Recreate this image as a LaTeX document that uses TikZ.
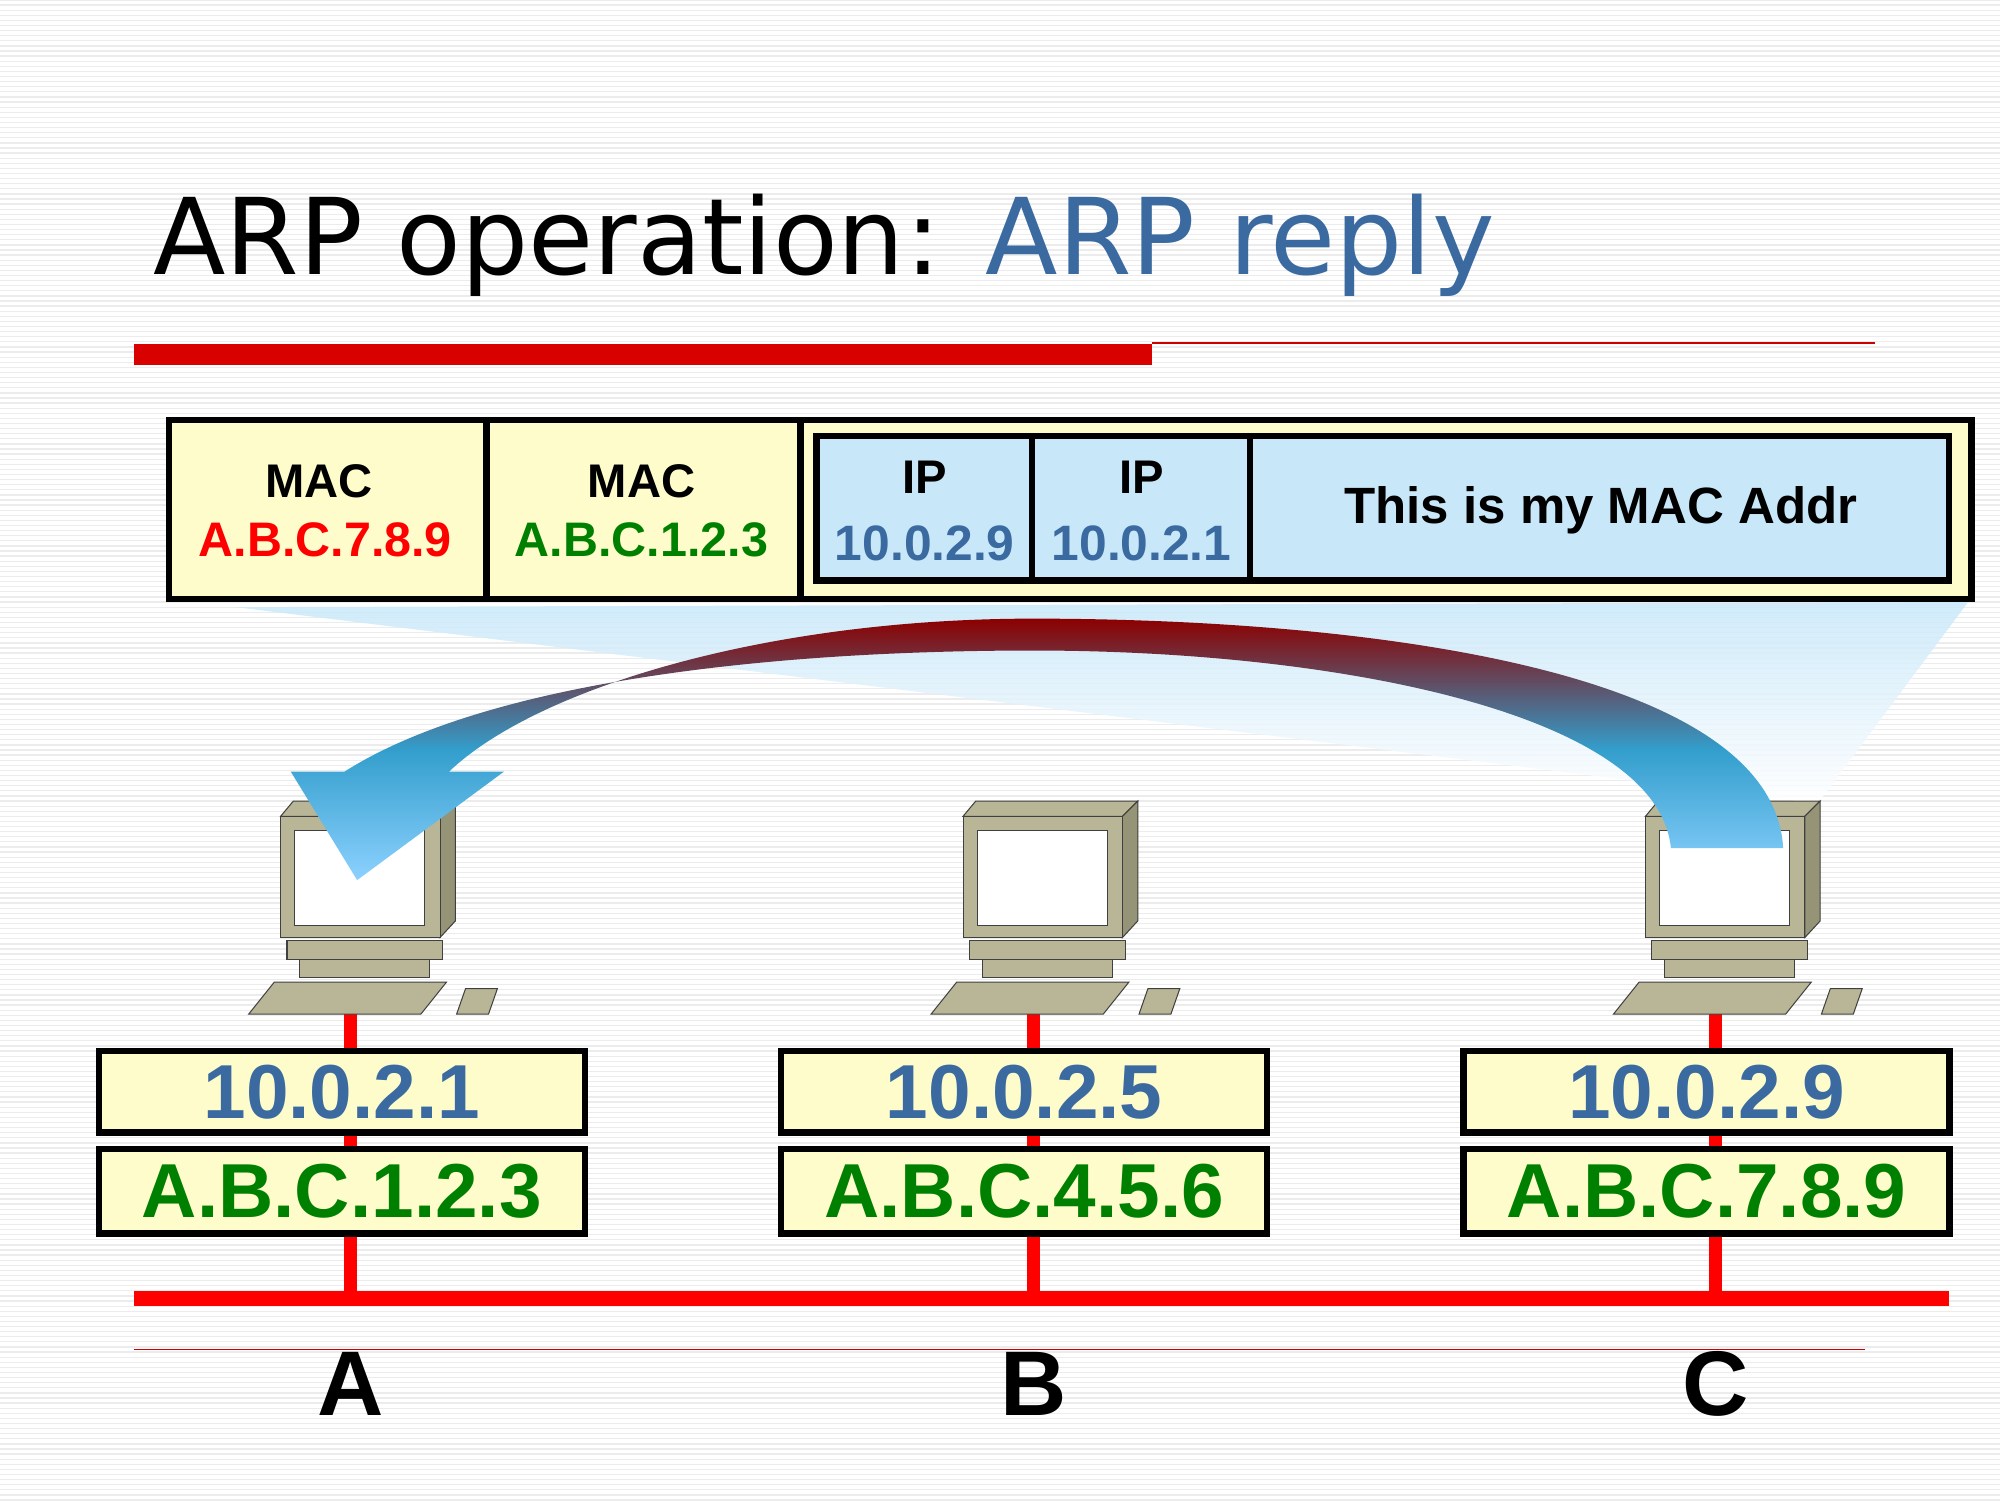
\documentclass[tikz,border=0pt]{standalone}
\usepackage{fontspec}
\setmainfont{Liberation Sans}
\newfontfamily\titlefont{DejaVu Sans}
\begin{document}
\begin{tikzpicture}[x=1pt,y=-1pt,
  box/.style={draw=black,line width=5pt,fill=yellow!20},
  pc/.style={fill=pcc,draw=gray!50!black,line width=0.8pt},
  wire/.style={draw=red,line width=10pt},
  lab/.style={font=\fontsize{60}{60}\selectfont\bfseries}]
\definecolor{tblue}{RGB}{58,106,160}
\definecolor{dgreen}{RGB}{0,128,0}
\definecolor{lblue}{RGB}{200,232,250}
\definecolor{pcc}{RGB}{184,182,150}
\definecolor{pcd}{RGB}{150,148,118}
\useasboundingbox (0,0) rectangle (1568,1176);
\fill[white] (0,0) rectangle (1568,1176);
\foreach \i in {0,4,...,1176} \draw[gray!15,line width=1pt] (0,\i) -- (1568,\i);
% title
\node[anchor=base west,inner sep=0,font=\titlefont\fontsize{83}{83}\selectfont] (title) at (120,215) {ARP operation: \textcolor{tblue}{ARP reply}};
\fill[red!85!black] (105,270) rectangle (903,286);
\draw[red!80!black,line width=1pt] (903,269) -- (1470,269);
% fan
\shade[top color=lblue,bottom color=white,opacity=0.85] (185,476) -- (1543,472) -- (1425,630) -- cycle;
% packet
\node[box,minimum width=249pt,minimum height=140pt,anchor=north west] (m1) at (130,327) {};
\node[box,minimum width=246pt,minimum height=140pt,anchor=north west] (m2) at (379,327) {};
\node[box,minimum width=918pt,minimum height=140pt,anchor=north west] (pl) at (625,327) {};
\draw[line width=5pt,fill=lblue] (640,342) rectangle (1528,455);
\draw[line width=5pt] (809,342) -- (809,455) (980,342) -- (980,455);
\node[font=\fontsize{37}{37}\selectfont\bfseries] (t1) at (250,377) {MAC};
\node[font=\fontsize{38}{38}\selectfont\bfseries,text=red] (t2) at (255,423) {A.B.C.7.8.9};
\node[font=\fontsize{37}{37}\selectfont\bfseries] (t3) at (503,377) {MAC};
\node[font=\fontsize{38}{38}\selectfont\bfseries,text=dgreen] (t4) at (503,423) {A.B.C.1.2.3};
\node[font=\fontsize{37}{37}\selectfont\bfseries] (t5) at (725,374) {IP};
\node[font=\fontsize{39}{39}\selectfont\bfseries,text=tblue] (t6) at (725,426) {10.0.2.9};
\node[font=\fontsize{37}{37}\selectfont\bfseries] (t7) at (895,374) {IP};
\node[font=\fontsize{39}{39}\selectfont\bfseries,text=tblue] (t8) at (895,426) {10.0.2.1};
\node[font=\fontsize{40}{40}\selectfont\bfseries] (t9) at (1255,400) {This is my MAC Addr};
% wires
\draw[wire,line width=12pt] (105,1018) -- (1528,1018);
\draw[red!80!black,line width=1pt] (105,1058) -- (1462,1058);
\foreach \c/\ip/\mac/\n in {275/10.0.2.1/A.B.C.1.2.3/A,810/10.0.2.5/A.B.C.4.5.6/B,1345/10.0.2.9/A.B.C.7.8.9/C}{
  \draw[wire] (\c,795) -- (\c,1018);
  \begin{scope}[shift={(\c,0)}]
    \draw[pc] (-55,640) -- (-45,628) -- (82,628) -- (70,640) -- cycle;
    \draw[pc,fill=pcd] (70,640) -- (82,628) -- (82,722) -- (70,735) -- cycle;
    \draw[pc] (-55,640) rectangle (70,735);
    \draw[gray!50!black,fill=white] (-44,651) rectangle (58,725);
    \draw[pc] (-50,737) rectangle (72,752);
    \draw[pc] (-40,752) rectangle (62,766);
    \draw[pc] (-80,795) -- (-60,770) -- (75,770) -- (55,795) -- cycle;
    \draw[pc] (83,795) -- (90,775) -- (115,775) -- (108,795) -- cycle;
  \end{scope}
  \node[box,minimum width=381pt,minimum height=64pt,text=tblue,lab] (ip\n) at (\c-7,856) {\ip};
  \node[box,minimum width=381pt,minimum height=66pt,text=dgreen,lab] (mac\n) at (\c-7,934) {\mac};
  \node[font=\fontsize{72}{72}\selectfont\bfseries] (n\n) at (\c,1085) {\n};
}
% arrow
\shade[top color=red!55!black,bottom color=cyan!60!blue!45,middle color=blue!30!cyan!60!gray,shading angle=0]
 (1398,665) .. controls (1390,520) and (1050,485) .. (810,485)
 .. controls (600,485) and (420,540) .. (352,605)
 -- (395,605) -- (280,690) -- (228,605) -- (270,605)
 .. controls (380,535) and (600,510) .. (810,510)
 .. controls (1050,510) and (1300,560) .. (1310,665) -- cycle;
\end{tikzpicture}
\end{document}
